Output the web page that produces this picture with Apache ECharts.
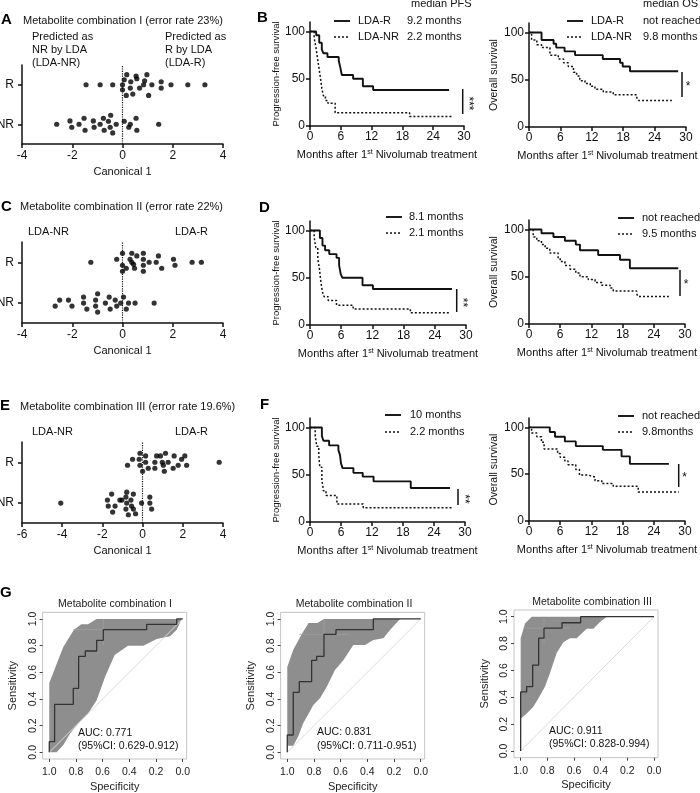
<!DOCTYPE html>
<html>
<head>
<meta charset="utf-8">
<script src="https://cdn.jsdelivr.net/npm/echarts@6.0.0/dist/echarts.min.js"></script>
<style>
  html, body { margin: 0; padding: 0; background: #fff; }
  #main { width: 700px; height: 793px; }
</style>
</head>
<body>
<div id="main"></div>
<script>
// ---- tick labels ----
const rowTicks = [0.25, 0.75];
const rowLabels = ['NR', 'R'];
const kmYTicks = [0, 50, 100];
const rocTicks = [0, 0.2, 0.4, 0.6, 0.8, 1.0];

// ---- LDA scatter: [canonical 1, jittered row position] ----
const ldaA_R = [[0.17,0.877],[0.54,0.86],[0.97,0.877],[0.07,0.813],[0.57,0.826],[0.88,0.80],[0.33,0.788],[1.54,0.788],
  [-1.45,0.75],[-0.89,0.75],[-0.39,0.75],[0.0,0.75],[0.84,0.75],[1.17,0.75],[1.93,0.75],[2.6,0.75],[3.28,0.75],
  [0.0,0.687],[0.31,0.708],[0.68,0.708],[1.54,0.708],[0.15,0.615],[0.41,0.632],[1.04,0.615]];
const ldaA_NR = [[-2.62,0.25],[-2.09,0.292],[-2.02,0.212],[-1.73,0.25],[-1.53,0.326],[-1.49,0.174],[-1.16,0.292],[-1.13,0.212],
  [-0.89,0.25],[-0.76,0.326],[-0.73,0.174],[-0.56,0.288],[-0.49,0.212],[-0.47,0.364],[-0.39,0.14],[-0.25,0.25],
  [0.07,0.288],[0.25,0.212],[0.31,0.25],[0.54,0.326],[0.57,0.174],[1.44,0.25]];
const ldaC_R = [[0,0.861],[0.37,0.861],[0.83,0.861],[-0.23,0.787],[0.3,0.787],[0.57,0.828],[0.83,0.787],[1.43,0.828],
  [-1.26,0.75],[0,0.713],[0.37,0.75],[0.44,0.725],[0.83,0.713],[1.06,0.75],[1.34,0.75],[2.03,0.787],[2.09,0.713],
  [2.77,0.75],[3.14,0.75],[0.15,0.676],[0.48,0.676],[0.83,0.639],[0,0.639],[1.56,0.676]];
const ldaC_NR = [[-0.99,0.361],[-1.55,0.32],[-2.5,0.283],[-2.15,0.283],[-2.68,0.209],[-2.01,0.209],[-1.55,0.246],[-1.42,0.172],
  [-1.07,0.283],[-1.07,0.209],[-0.99,0.135],[-0.68,0.246],[-0.53,0.32],[-0.49,0.172],[-0.29,0.283],[-0.23,0.209],
  [-0.07,0.246],[0.04,0.32],[0.15,0.172],[0.24,0.246],[0.5,0.246],[1.26,0.246]];
const ldaE_R = [[-0.13,0.861],[0.15,0.828],[-0.5,0.787],[-0.17,0.787],[0.7,0.828],[0.89,0.828],[1.14,0.861],[1.57,0.828],
  [1.94,0.787],[2.1,0.828],[-0.75,0.713],[-0.13,0.713],[0.15,0.75],[0.28,0.676],[0.61,0.75],[0.98,0.75],[1.03,0.713],
  [1.27,0.75],[1.52,0.676],[1.77,0.713],[2.19,0.713],[1.08,0.639],[0,0.639],[0.61,0.676],[3.81,0.75]];
const ldaE_NR = [[-4.07,0.246],[-1.75,0.283],[-1.54,0.357],[-1.71,0.209],[-1.37,0.209],[-1.49,0.135],[-1.13,0.283],[-1.03,0.283],
  [-0.79,0.381],[-0.83,0.32],[-0.79,0.246],[-0.83,0.172],[-0.71,0.102],[-0.58,0.283],[-0.46,0.357],[-0.46,0.172],
  [-0.35,0.114],[-0.55,0.209],[-0.05,0.246],[0.36,0.32],[0.36,0.246],[0.45,0.172]];

// ---- Kaplan-Meier: [months, % surviving] ----
const pfsB_R = [[0,100],[1.2,96],[1.8,88],[2.3,81],[2.6,77],[3.4,73],[5.6,69],[5.9,62],[6.2,54],[8.4,50],[10.3,42],[12.3,38],[27.1,38]];
const pfsB_NR = [[0,100],[0.8,93],[1.1,85],[1.4,74],[1.7,63],[2.0,52],[2.3,40],[2.6,32],[3.0,27],[3.5,24],[4.9,14],[19.4,10],[27.6,10]];
const osB_R = [[0,100],[2.4,92],[4.7,88],[5.2,84],[6.8,80],[8.8,76],[14.1,72],[17.4,68],[17.9,64],[19.3,59],[28.5,59]];
const osB_NR = [[0,100],[0.5,92],[1.5,87],[2.4,84],[4.0,76],[5.6,72],[6.6,68],[7.5,64],[8.5,58],[9.1,54],[9.7,49],[10.7,46],
  [11.7,43],[12.6,40],[14.2,37],[16.1,34],[20.6,31],[20.9,28],[27.3,28]];
const pfsD_R = [[0,100],[1.9,92],[2.4,84],[2.9,79],[3.7,75],[5.1,71],[5.6,63],[5.9,54],[6.2,50],[10.1,42],[12.1,38],[27.3,38]];
const pfsD_NR = [[0,100],[0.8,93],[1.1,82],[1.5,70],[1.8,60],[2.1,45],[2.4,35],[2.7,30],[3.5,26],[5.1,21],[8.3,17],[19.3,13],[26.9,13]];
const osD_R = [[0,100],[2.4,96],[4.7,92],[6.9,88],[9.0,84],[9.8,78],[13.3,73],[17.5,68],[19.4,59],[28.7,59]];
const osD_NR = [[0,100],[0.8,92],[1.5,88],[2.4,84],[3.1,80],[4.0,75],[5.6,70],[6.0,66],[6.9,62],[7.9,58],[9.0,54],[9.8,50],
  [11.4,47],[12.7,44],[14.0,41],[15.6,38],[16.2,35],[20.7,32],[21.0,29],[26.9,29]];
const pfsF_R = [[0,100],[2.3,91],[2.6,86],[3.7,81],[5.5,76],[5.8,71],[6.0,62],[6.3,57],[8.4,52],[10.2,48],[12.3,43],[19.5,36],[27.1,36]];
const pfsF_NR = [[0,100],[1.0,92],[1.3,80],[1.7,70],[1.9,58],[2.3,45],[2.6,33],[3.1,28],[5.2,19],[10.3,15],[27.7,15]];
const osF_R = [[0,100],[4.0,95],[5.0,90],[6.9,85],[9.0,80],[14.2,76],[17.8,69],[19.4,61],[26.9,61]];
const osF_NR = [[0,100],[0.5,94],[1.5,90],[2.4,84],[2.9,77],[5.5,72],[6.0,68],[6.9,64],[7.5,60],[9.0,55],[9.7,49],[11.4,47],
  [12.7,43],[14.0,40],[16.2,37],[21.0,31],[28.8,31]];

// ---- ROC: [specificity, sensitivity] ----
const rocDiagonal = [[1,0],[0,1]];
const rocCurveI = [[1,0],[1,0.08],[0.96,0.08],[0.96,0.36],[0.82,0.36],[0.82,0.48],[0.78,0.48],[0.78,0.72],[0.73,0.72],[0.73,0.76],
  [0.645,0.76],[0.645,0.84],[0.595,0.84],[0.595,0.92],[0.27,0.92],[0.27,0.96],[0.045,0.96],[0.045,1],[0,1]];
const rocUpperI = [[1,0],[1,0.52],[0.895,0.79],[0.815,0.92],[0.76,0.96],[0.71,0.96],[0.645,1],[0,1]];
const rocLowerI = [[1,0],[0.945,0],[0.895,0.055],[0.845,0.14],[0.78,0.22],[0.71,0.29],[0.645,0.39],[0.58,0.57],[0.51,0.73],
  [0.41,0.8],[0.295,0.8],[0.195,0.85],[0.095,0.87],[0.045,0.92],[0.0075,1],[0,1]];
const rocCrossI = [[[0.82,0.92],[0.595,0.92]], [[0.595,1],[0.595,0.8]]];
const rocCurveII = [[1,0],[1,0.13],[0.955,0.13],[0.955,0.45],[0.91,0.45],[0.91,0.53],[0.8175,0.53],[0.8175,0.69],[0.78,0.69],
  [0.78,0.72],[0.725,0.72],[0.725,0.885],[0.635,0.885],[0.635,0.92],[0.355,0.92],[0.355,1],[0,1]];
const rocUpperII = [[1,0.05],[1,0.64],[0.955,0.77],[0.89,0.89],[0.84,0.97],[0.775,0.97],[0.725,1],[0.155,1]];
const rocLowerII = [[1,0.05],[0.955,0.05],[0.9175,0.12],[0.88,0.22],[0.84,0.29],[0.805,0.355],[0.755,0.405],[0.705,0.49],
  [0.6425,0.6175],[0.58,0.69],[0.505,0.805],[0.4175,0.805],[0.355,0.8425],[0.28,0.855],[0.23,0.9175],[0.155,1]];
const rocCrossII = [[[0.91,0.885],[0.54,0.885]], [[0.725,1],[0.725,0.76]]];
const rocCurveIII = [[1,0],[1,0.44],[0.955,0.44],[0.955,0.48],[0.91,0.48],[0.91,0.64],[0.865,0.64],[0.865,0.84],[0.825,0.84],
  [0.825,0.915],[0.69,0.915],[0.69,0.955],[0.55,0.955],[0.55,1],[0,1]];
const rocUpperIII = [[1,0.24],[1,0.84],[0.9675,0.95],[0.9175,1],[0.355,1]];
const rocLowerIII = [[1,0.24],[0.955,0.28],[0.905,0.33],[0.8675,0.39],[0.8175,0.48],[0.78,0.58],[0.73,0.73],[0.68,0.81],
  [0.63,0.84],[0.58,0.84],[0.5425,0.875],[0.505,0.91],[0.455,0.91],[0.405,0.96],[0.355,1]];
const rocCrossIII = [[[0.9675,0.915],[0.63,0.915]], [[0.825,1],[0.825,0.8]]];

const FONT = '"Liberation Sans", Arial, Helvetica, sans-serif';
const INK = '#111';

var grids = [], xAxes = [], yAxes = [], series = [], graphics = [];

function txt(x, y, text, o) {
  o = o || {};
  graphics.push({
    type: 'text', x: x, y: y, rotation: o.rotation || 0, silent: true,
    style: { text: text, fill: o.color || INK, align: o.align || 'left', verticalAlign: 'middle',
      font: (o.weight || 'normal') + ' ' + (o.size || 11) + 'px ' + FONT }
  });
}
function seg(x1, y1, x2, y2, o) {
  o = o || {};
  graphics.push({
    type: 'line', silent: true, shape: { x1: x1, y1: y1, x2: x2, y2: y2 },
    style: { stroke: INK, lineWidth: o.width || 1.5, lineDash: o.dash || null }
  });
}

function addGrid(l, t, w, h, extra) {
  var g = Object.assign({ left: l, top: t, width: w, height: h, containLabel: false, outerBoundsMode: 'none' }, extra || {});
  grids.push(g);
  return grids.length - 1;
}

var axisLine = { show: true, onZero: false, lineStyle: { color: INK, width: 1.5 } };
var axisTick = { show: true, length: 4, lineStyle: { color: INK, width: 1.5 } };

function scatterPanel(l, t, w, h, xMin, rPts, nrPts) {
  var gi = addGrid(l, t, w, h);
  xAxes.push({
    gridIndex: gi, type: 'value', min: xMin, max: 4, interval: 2,
    axisLine: axisLine, axisTick: axisTick, splitLine: { show: false },
    axisLabel: { fontSize: 12, color: INK, margin: 6, fontFamily: FONT },
    name: 'Canonical 1', nameLocation: 'middle', nameGap: 22,
    nameTextStyle: { fontSize: 11, color: INK, fontFamily: FONT }
  });
  yAxes.push({
    gridIndex: gi, type: 'value', min: 0, max: 1,
    axisLine: axisLine, splitLine: { show: false },
    axisTick: Object.assign({ customValues: rowTicks }, axisTick),
    axisLabel: { customValues: rowTicks, fontSize: 12, color: INK, margin: 8, fontFamily: FONT,
      formatter: function (v) { return rowLabels[rowTicks.indexOf(v)]; } }
  });
  [rPts, nrPts].forEach(function (pts, k) {
    var s = { type: 'scatter', xAxisIndex: gi, yAxisIndex: gi, data: pts, symbolSize: 5.2,
      itemStyle: { color: '#000' }, silent: true };
    if (k === 0) {
      s.markLine = { silent: true, symbol: 'none', label: { show: false },
        lineStyle: { type: 'dotted', color: INK, width: 1.2 }, data: [{ xAxis: 0 }] };
    }
    series.push(s);
  });
}

function kmPanel(l, t, w, h, solid, dotted, yName, yNameSize, yGap) {
  var gi = addGrid(l, t, w, h);
  xAxes.push({
    gridIndex: gi, type: 'value', min: 0, max: 30, interval: 6,
    axisLine: axisLine, axisTick: axisTick, splitLine: { show: false },
    axisLabel: { fontSize: 12, color: INK, margin: 5, fontFamily: FONT },
    name: 'Months after 1{sup|st} Nivolumab treatment', nameLocation: 'middle', nameGap: 23,
    nameTextStyle: { fontSize: 11, color: INK, fontFamily: FONT,
      rich: { sup: { fontSize: 7, color: INK, fontFamily: FONT, verticalAlign: 'top', lineHeight: 11 } } }
  });
  yAxes.push({
    gridIndex: gi, type: 'value', min: 0, max: 110,
    axisLine: axisLine, splitLine: { show: false },
    axisTick: Object.assign({ customValues: kmYTicks }, axisTick),
    axisLabel: { customValues: kmYTicks, fontSize: 12, color: INK, margin: 5, fontFamily: FONT },
    name: yName, nameLocation: 'middle', nameGap: yGap,
    nameTextStyle: { fontSize: yNameSize, color: INK, fontFamily: FONT }
  });
  series.push({ type: 'line', step: 'end', xAxisIndex: gi, yAxisIndex: gi, data: solid, symbol: 'none',
    lineStyle: { color: INK, width: 1.9 }, silent: true });
  series.push({ type: 'line', step: 'end', xAxisIndex: gi, yAxisIndex: gi, data: dotted, symbol: 'none',
    lineStyle: { color: INK, width: 1.5, type: [2, 2] }, silent: true });
}

function rocPanel(l, t, w, h, curve, upper, lower, cross, title, tx, ty) {
  var gi = addGrid(l, t, w, h, { show: true, borderColor: '#c4c4c4', borderWidth: 1 });
  var tick = { show: true, length: 3, customValues: rocTicks, lineStyle: { color: '#444', width: 1 } };
  xAxes.push({
    gridIndex: gi, type: 'value', inverse: true, min: -0.03, max: 1.05, position: 'bottom',
    axisLine: { show: false, onZero: false }, axisTick: tick, splitLine: { show: false },
    axisLabel: { customValues: rocTicks, fontSize: 10.5, color: '#222', margin: 8, fontFamily: FONT,
      formatter: function (v) { return v.toFixed(1); } },
    name: 'Specificity', nameLocation: 'middle', nameGap: 22,
    nameTextStyle: { fontSize: 11, color: '#222', fontFamily: FONT }
  });
  yAxes.push({
    gridIndex: gi, type: 'value', min: -0.05, max: 1.05, position: 'left',
    axisLine: { show: false, onZero: false }, axisTick: tick, splitLine: { show: false },
    axisLabel: { customValues: rocTicks, fontSize: 10.5, color: '#222', margin: 4, rotate: 90, fontFamily: FONT,
      formatter: function (v) { return v.toFixed(1); } },
    name: 'Sensitivity', nameLocation: 'middle', nameGap: 24,
    nameTextStyle: { fontSize: 11, color: '#222', fontFamily: FONT }
  });
  var poly = upper.concat(lower.slice().reverse());
  series.push({
    type: 'custom', xAxisIndex: gi, yAxisIndex: gi, data: [[0.5, 0.5]], silent: true, z: 1,
    renderItem: function (p, api) {
      return { type: 'polygon', shape: { points: poly.map(function (d) { return api.coord(d); }) },
        style: { fill: '#8e8e8e' } };
    }
  });
  series.push({ type: 'line', xAxisIndex: gi, yAxisIndex: gi, data: rocDiagonal, symbol: 'none', z: 2,
    lineStyle: { color: '#dcdcdc', width: 1 }, silent: true });
  cross.forEach(function (c) {
    series.push({ type: 'line', xAxisIndex: gi, yAxisIndex: gi, data: c, symbol: 'none', z: 3,
      lineStyle: { color: '#a0a0a0', width: 0.8 }, silent: true });
  });
  series.push({ type: 'line', xAxisIndex: gi, yAxisIndex: gi, data: curve, symbol: 'none', z: 4,
    lineStyle: { color: '#333', width: 1.3 }, silent: true });
  txt(tx, ty, title, { align: 'center', size: 10.5, color: '#222' });
}

// ---- panels ----
scatterPanel(22, 65, 201, 79, -4, ldaA_R, ldaA_NR);
scatterPanel(22, 242, 201, 81, -4, ldaC_R, ldaC_NR);
scatterPanel(22, 442, 201, 81, -6, ldaE_R, ldaE_NR);

kmPanel(310, 22, 154, 104, pfsB_R, pfsB_NR, 'Progression-free survival', 9.5, 29);
kmPanel(529, 23, 157, 104, osB_R, osB_NR, 'Overall survival', 10.5, 28);
kmPanel(310, 221, 156, 104, pfsD_R, pfsD_NR, 'Progression-free survival', 9.5, 29);
kmPanel(529, 220, 156, 104, osD_R, osD_NR, 'Overall survival', 10.5, 28);
kmPanel(310, 418, 155, 104, pfsF_R, pfsF_NR, 'Progression-free survival', 9.5, 29);
kmPanel(529, 418, 156, 103, osF_R, osF_NR, 'Overall survival', 10.5, 28);

rocPanel(42.6, 612.3, 144.1, 146.7, rocCurveI, rocUpperI, rocLowerI, rocCrossI, 'Metabolite combination I', 115, 604);
rocPanel(280.6, 612.3, 144.1, 146.7, rocCurveII, rocUpperII, rocLowerII, rocCrossII, 'Metabolite combination II', 354, 604);
rocPanel(514, 610, 144, 147.7, rocCurveIII, rocUpperIII, rocLowerIII, rocCrossIII, 'Metabolite combination III', 592, 602);

// ---- panel letters & titles ----
[['A', 1, 20], ['B', 257, 18], ['C', 1, 207], ['D', 259, 208], ['E', 0, 406], ['F', 260, 405], ['G', 0, 593]]
  .forEach(function (p) { txt(p[1], p[2], p[0], { weight: 'bold', size: 15, color: '#000' }); });

txt(23, 21, 'Metabolite combination I (error rate 23%)');
txt(32, 37, 'Predicted as'); txt(32, 50, 'NR by LDA'); txt(32, 63, '(LDA-NR)');
txt(165, 37, 'Predicted as'); txt(165, 50, 'R by LDA'); txt(165, 63, '(LDA-R)');
txt(20, 207, 'Metabolite combination II (error rate 22%)');
txt(28, 232, 'LDA-NR'); txt(175, 232, 'LDA-R');
txt(20, 407, 'Metabolite combination III (error rate 19.6%)');
txt(32, 432, 'LDA-NR'); txt(175, 432, 'LDA-R');

// ---- KM legends ----
function kmLegend(lx, y1, y2, nameX, valX, names, vals) {
  seg(lx, y1, lx + 16, y1, { width: 1.9 });
  seg(lx, y2, lx + 16, y2, { width: 1.5, dash: [2, 2] });
  if (names) { txt(nameX, y1, names[0]); txt(nameX, y2, names[1]); }
  txt(valX, y1, vals[0]); txt(valX, y2, vals[1]);
}
txt(411, 4, 'median PFS');
kmLegend(334, 21, 37, 358, 407, ['LDA-R', 'LDA-NR'], ['9.2 months', '2.2 months']);
txt(643, 4, 'median OS');
kmLegend(567, 21, 37, 591, 643, ['LDA-R', 'LDA-NR'], ['not reached', '9.8 months']);
kmLegend(386, 217, 233, 0, 409, null, ['8.1 months', '2.1 months']);
kmLegend(618, 218, 234, 0, 642, null, ['not reached', '9.5 months']);
kmLegend(385, 415, 432, 0, 410, null, ['10 months', '2.2 months']);
kmLegend(618, 416, 432, 0, 642, null, ['not reached', '9.8months']);

// ---- significance bars ----
function sig(x, y1, y2, stars) {
  seg(x, y1, x, y2, { width: 1.5 });
  txt(x + 6, (y1 + y2) / 2 + 2, stars, { size: 12, align: 'center', rotation: stars.length > 1 ? -Math.PI / 2 : 0 });
}
sig(462.7, 89, 114, '***');
sig(682, 72, 97, '*');
sig(456.7, 289, 312, '**');
sig(680, 270, 296, '*');
sig(458, 489, 505, '**');
sig(678.7, 464, 487, '*');

// ---- AUC labels ----
txt(78, 733, 'AUC: 0.771', { size: 10.5 }); txt(78, 746, '(95%CI: 0.629-0.912)', { size: 10.5 });
txt(317, 732, 'AUC: 0.831', { size: 10.5 }); txt(317, 746, '(95%CI: 0.711-0.951)', { size: 10.5 });
txt(549, 731, 'AUC: 0.911', { size: 10.5 }); txt(549, 744, '(95%CI: 0.828-0.994)', { size: 10.5 });

var chart = echarts.init(document.getElementById('main'), null, { renderer: 'canvas' });
chart.setOption({
  animation: false,
  backgroundColor: '#fff',
  grid: grids,
  xAxis: xAxes,
  yAxis: yAxes,
  series: series,
  graphic: { elements: graphics }
});
</script>
</body>
</html>
